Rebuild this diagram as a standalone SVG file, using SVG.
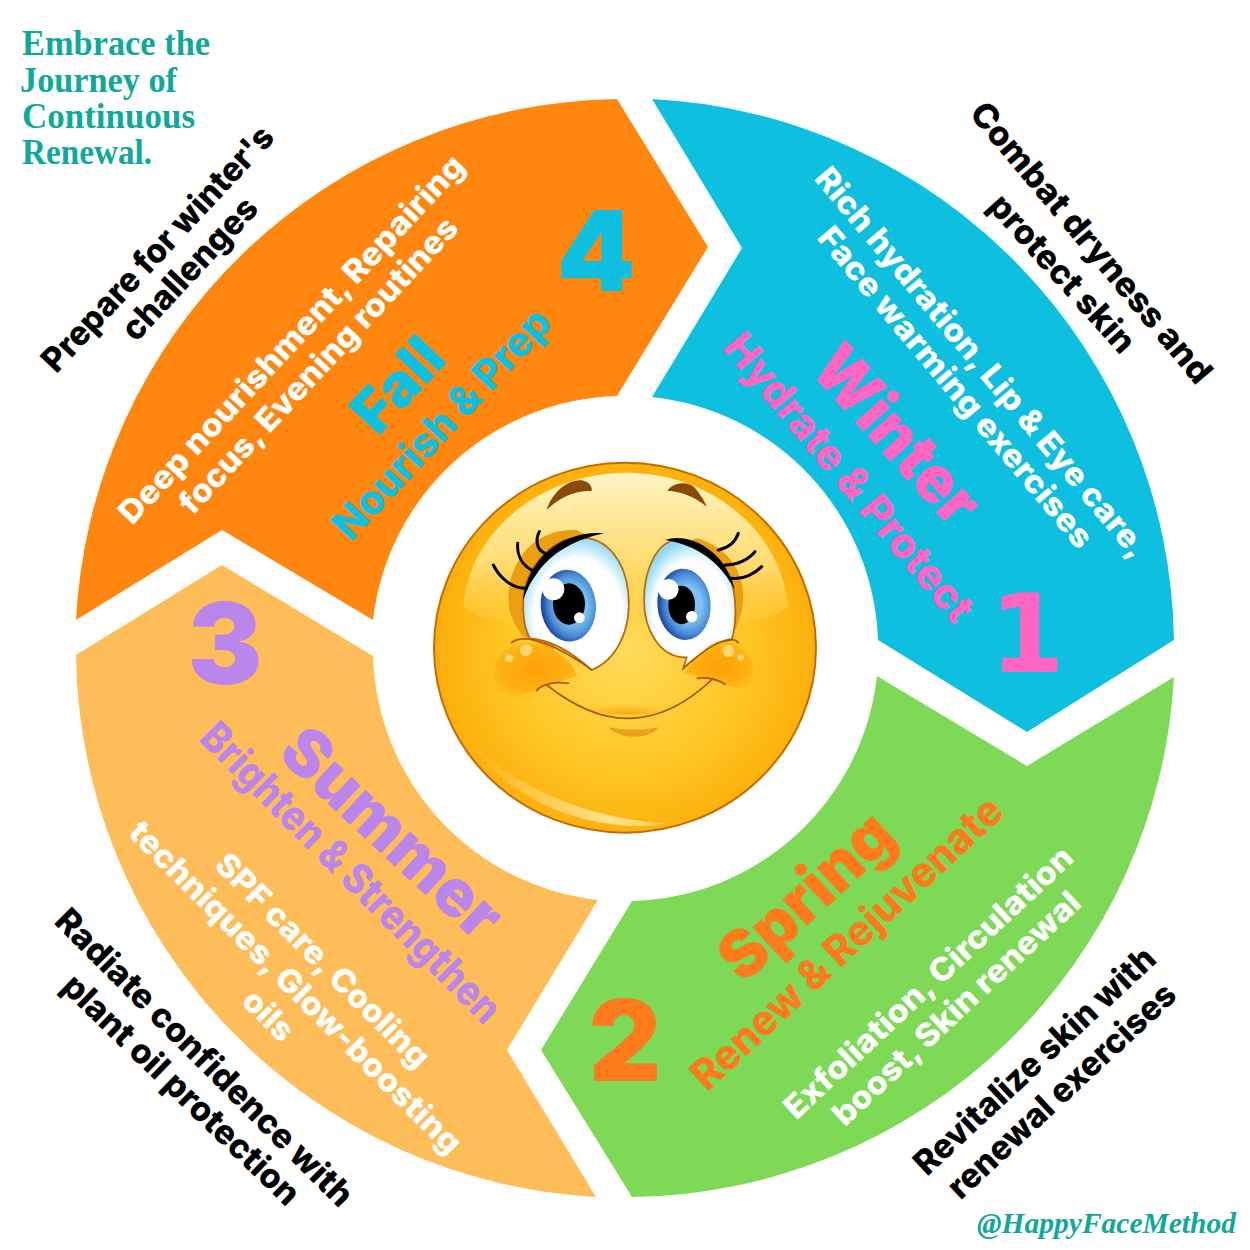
<svg xmlns="http://www.w3.org/2000/svg" width="1250" height="1250" viewBox="0 0 1250 1250">
<style>
text{text-anchor:middle;dominant-baseline:central;font-family:Inter,"Liberation Sans",sans-serif;font-weight:800}
.head,.handle{text-anchor:start;dominant-baseline:auto;font-family:"Liberation Serif",serif;fill:#0fa89a;font-weight:700}
.head{font-size:35px}
.handle{font-size:29px;font-style:italic}
.k{fill:#000;font-size:34px}
.w{fill:#fff;font-size:32px}
.t{font-size:66px;font-weight:900}
.s{font-size:42px}
.n{font-size:112px;font-weight:900}
.ln{fill:none;stroke:#000;stroke-width:9;stroke-linecap:round}
.br{fill:none;stroke:#a85a08;stroke-width:5;stroke-linecap:round}
</style>
<defs>
<radialGradient id="fg" gradientUnits="userSpaceOnUse" cx="620" cy="600" r="600"><stop offset="0" stop-color="#ffdc5c"/><stop offset=".6" stop-color="#ffc623"/><stop offset=".9" stop-color="#fdb30f"/><stop offset="1" stop-color="#fbaa09"/></radialGradient>
<linearGradient id="hl" x1="0" y1="0" x2="0" y2="1"><stop offset="0" stop-color="#fff4c2"/><stop offset=".6" stop-color="#ffdc70"/><stop offset="1" stop-color="#ffcf45" stop-opacity=".3"/></linearGradient>
<radialGradient id="ew" cx=".52" cy=".58" r=".58"><stop offset=".72" stop-color="#fff"/><stop offset="1" stop-color="#8ed8f4"/></radialGradient>
<radialGradient id="ir" cx=".58" cy=".5" r=".55"><stop offset=".45" stop-color="#7cc3f3"/><stop offset=".78" stop-color="#4b8ad6"/><stop offset="1" stop-color="#1f4aa5"/></radialGradient>
<radialGradient id="ch" cx=".5" cy=".5" r=".6"><stop offset="0" stop-color="#ffa008"/><stop offset=".7" stop-color="#ffb114"/><stop offset="1" stop-color="#ffb91c" stop-opacity=".5"/></radialGradient>
<radialGradient id="sh" cx=".5" cy=".9" r=".6"><stop offset="0" stop-color="#fba60c"/><stop offset="1" stop-color="#fdc233" stop-opacity="0"/></radialGradient>
<linearGradient id="cr" x1="0" y1="0" x2="1" y2="0"><stop offset="0" stop-color="#ffb413"/><stop offset=".7" stop-color="#ffe28a"/><stop offset="1" stop-color="#ffcf55"/></linearGradient>
</defs>
<rect width="1250" height="1250" fill="#fff"/>

<g id="winter">
<path d="M652,99 A550,550 0 0 1 1174,640 L1027,732 L878,640 A253,253 0 0 0 652,397 L742,248 Z" fill="#0fbfe0"/>
<text class="t" fill="#ff66c4" transform="translate(898 434) rotate(48)" textLength="215" lengthAdjust="spacingAndGlyphs">Winter</text>
<text class="s" fill="#ff66c4" transform="translate(850 477) rotate(50)" textLength="362" lengthAdjust="spacingAndGlyphs">Hydrate &amp; Protect</text>
<text class="w" transform="translate(982 362) rotate(50)" textLength="498" lengthAdjust="spacingAndGlyphs">Rich hydration, Lip &amp; Eye care,</text>
<text class="w" transform="translate(956 387) rotate(50)" textLength="408" lengthAdjust="spacingAndGlyphs">Face warming exercises</text>
<text class="k" transform="translate(1092 242) rotate(50)" textLength="355" lengthAdjust="spacingAndGlyphs">Combat dryness and</text>
<text class="k" transform="translate(1063 273) rotate(48)" textLength="200" lengthAdjust="spacingAndGlyphs">protect skin</text>
<text class="n" fill="#ff66c4" x="1027" y="634" style="font-family:'DejaVu Sans',sans-serif;font-weight:700;font-size:108px">1</text>
</g>

<g id="spring">
<path d="M1174,677 A550,550 0 0 1 632,1197 L541,1050 L632,901 A253,253 0 0 0 877,676 L1027,766 Z" fill="#7ed957"/>
<text class="t" fill="#ff7a1a" transform="translate(805 895) rotate(-43)" textLength="212" lengthAdjust="spacingAndGlyphs">Spring</text>
<text class="s" fill="#ff7a1a" transform="translate(846 942) rotate(-43)" textLength="408" lengthAdjust="spacingAndGlyphs">Renew &amp; Rejuvenate</text>
<text class="w" transform="translate(928 982) rotate(-43)" textLength="382" lengthAdjust="spacingAndGlyphs">Exfoliation, Circulation</text>
<text class="w" transform="translate(956 1008) rotate(-43)" textLength="326" lengthAdjust="spacingAndGlyphs">boost, Skin renewal</text>
<text class="k" transform="translate(1034 1060) rotate(-43)" textLength="316" lengthAdjust="spacingAndGlyphs">Revitalize skin with</text>
<text class="k" transform="translate(1061 1090) rotate(-43)" textLength="298" lengthAdjust="spacingAndGlyphs">renewal exercises</text>
<text class="n" fill="#ff7a1a" x="625" y="1040">2</text>
</g>

<g id="summer">
<path d="M596,1197 A550,550 0 0 1 76,655 L222,565 L373,656 A253,253 0 0 0 598,900 L507,1050 Z" fill="#ffbd59"/>
<text class="t" fill="#bb86ec" transform="translate(393 832) rotate(43)" textLength="275" lengthAdjust="spacingAndGlyphs">Summer</text>
<text class="s" fill="#bb86ec" transform="translate(352 872) rotate(45)" textLength="405" lengthAdjust="spacingAndGlyphs">Brighten &amp; Strengthen</text>
<text class="w" transform="translate(323 960) rotate(45)" textLength="288" lengthAdjust="spacingAndGlyphs">SPF care, Cooling</text>
<text class="w" transform="translate(296 987) rotate(45)" textLength="455" lengthAdjust="spacingAndGlyphs">techniques, Glow-boosting</text>
<text class="w" transform="translate(269 1015) rotate(45)" textLength="58" lengthAdjust="spacingAndGlyphs">oils</text>
<text class="k" transform="translate(205 1057) rotate(45)" textLength="405" lengthAdjust="spacingAndGlyphs">Radiate confidence with</text>
<text class="k" transform="translate(182 1089) rotate(44)" textLength="315" lengthAdjust="spacingAndGlyphs">plant oil protection</text>
<text class="n" fill="#bb86ec" x="225" y="643">3</text>
</g>

<g id="fall">
<path d="M76,620 A550,550 0 0 1 617,99 L708,247 L617,396 A253,253 0 0 0 373,620 L222,530 Z" fill="#ff870f"/>
<text class="t" fill="#0fbfe0" transform="translate(397 384) rotate(-47)" style="font-size:60px" textLength="104" lengthAdjust="spacingAndGlyphs">Fall</text>
<text class="s" fill="#0fbfe0" transform="translate(441 423) rotate(-47)" textLength="298" lengthAdjust="spacingAndGlyphs">Nourish &amp; Prep</text>
<text class="w" transform="translate(291 339) rotate(-47)" textLength="490" lengthAdjust="spacingAndGlyphs">Deep nourishment, Repairing</text>
<text class="w" transform="translate(318 365) rotate(-47)" textLength="392" lengthAdjust="spacingAndGlyphs">focus, Evening routines</text>
<text class="k" transform="translate(157 248) rotate(-47)" textLength="322" lengthAdjust="spacingAndGlyphs">Prepare for winter's</text>
<text class="k" transform="translate(189 268) rotate(-47)" textLength="182" lengthAdjust="spacingAndGlyphs">challenges</text>
<text class="n" fill="#0fbfe0" x="596" y="250">4</text>
</g>

<g id="face" transform="translate(420 450) scale(.33333)">
<ellipse cx="615" cy="593" rx="573" ry="555" fill="url(#fg)" stroke="#c46c00" stroke-width="6"/>
<path d="M130,470 C150,230 380,68 620,68 C860,68 1080,230 1105,470 C1060,510 950,525 850,520 L400,520 C280,525 180,515 130,470 Z" fill="url(#hl)"/>
<path d="M380,180 C400,120 450,85 490,92 C510,97 518,112 515,123 C460,122 415,145 380,180 Z" fill="#8a4a07"/>
<path d="M742,122 C760,95 810,90 830,120 C845,140 855,155 860,170 C825,140 785,125 742,122 Z" fill="#8a4a07"/>
<path d="M265,440 C270,320 350,235 470,240 L560,290 L400,600 L310,560 C280,520 265,490 265,440 Z" fill="#eb9e12"/>
<path d="M970,440 C968,360 920,290 830,265 L740,300 L850,600 L935,565 C955,520 970,480 970,440 Z" fill="#eb9e12"/>
<path d="M515,660 C590,630 635,540 625,430 C615,330 560,262 480,262 C400,262 315,350 310,450 C308,500 315,540 330,565 C400,570 460,610 515,660 Z" fill="url(#ew)" stroke="#b9650a" stroke-width="5"/>
<path d="M790,655 C850,600 900,575 935,570 C950,520 950,450 935,400 C905,320 840,268 770,270 C710,275 672,360 672,450 C672,540 720,625 800,622 Z" fill="url(#ew)" stroke="#b9650a" stroke-width="5"/>
<ellipse cx="445" cy="467" rx="83" ry="108" transform="rotate(-5 445 467)" fill="url(#ir)"/>
<ellipse cx="447" cy="462" rx="48" ry="62" fill="#000"/>
<circle cx="400" cy="418" r="33" fill="#fff"/><circle cx="478" cy="503" r="16" fill="#fff"/>
<ellipse cx="792" cy="463" rx="80" ry="107" transform="rotate(-5 792 463)" fill="url(#ir)"/>
<ellipse cx="785" cy="465" rx="40" ry="58" fill="#000"/>
<circle cx="745" cy="418" r="31" fill="#fff"/><circle cx="815" cy="500" r="17" fill="#fff"/>
<path d="M310,440 C330,320 430,240 552,250 C470,268 395,305 350,372 C330,398 320,420 310,450 Z" fill="#000"/>
<path d="M735,270 C800,245 915,295 945,420 C900,335 830,285 735,270 Z" fill="#000"/>
<path class="ln" d="M345,365 C310,350 290,320 293,280"/>
<path class="ln" d="M375,310 C350,300 345,270 358,245"/>
<path class="ln" d="M320,415 C275,415 240,385 220,345"/>
<path class="ln" d="M895,300 C920,295 945,280 955,250"/>
<path class="ln" d="M915,345 C955,345 990,325 1005,305"/>
<path class="ln" d="M935,385 C970,390 1005,370 1025,350"/>
<path d="M220,660 C230,610 280,570 340,580 C400,590 470,640 470,680 C420,690 350,725 280,740 C240,740 220,700 220,660 Z" fill="url(#ch)"/>
<path d="M1000,660 C995,610 950,570 890,575 C860,585 810,640 795,670 C850,680 920,710 985,720 C995,705 1000,685 1000,660 Z" fill="url(#ch)"/>
<path d="M275,578 C300,555 350,570 400,590 C450,615 490,640 515,660" class="br"/>
<path d="M790,655 C830,620 880,575 930,568 C945,568 950,572 955,578" class="br"/>
<circle cx="318" cy="600" r="18" fill="#ffd873"/><circle cx="268" cy="624" r="12" fill="#ffd873"/>
<circle cx="925" cy="603" r="18" fill="#ffd873"/><circle cx="962" cy="622" r="10" fill="#ffd873"/>
<path d="M470,775 C540,735 700,735 770,775 C720,800 540,800 470,775 Z" fill="url(#sh)"/>
<path class="br" d="M350,722 C365,700 410,695 445,700"/>
<path class="br" d="M380,705 C450,760 530,805 620,805 C720,805 800,760 880,685"/>
<path class="br" d="M832,685 C860,680 900,690 915,703"/>
<path d="M565,832 C610,842 670,842 715,832 C690,870 600,870 565,832 Z" fill="#eba21a"/>
<path d="M160,885 C300,1020 520,1110 740,1120 C600,1150 300,1100 160,885 Z" fill="url(#cr)"/>
</g>

<g id="title">
<text class="head" x="22" y="55" textLength="188" lengthAdjust="spacingAndGlyphs">Embrace the</text>
<text class="head" x="20" y="92" textLength="157" lengthAdjust="spacingAndGlyphs">Journey of</text>
<text class="head" x="22" y="128" textLength="173" lengthAdjust="spacingAndGlyphs">Continuous</text>
<text class="head" x="22" y="164" textLength="130" lengthAdjust="spacingAndGlyphs">Renewal.</text>
</g>
<g id="handle"><text class="handle" x="977" y="1233" textLength="259" lengthAdjust="spacingAndGlyphs">@HappyFaceMethod</text></g>
</svg>
